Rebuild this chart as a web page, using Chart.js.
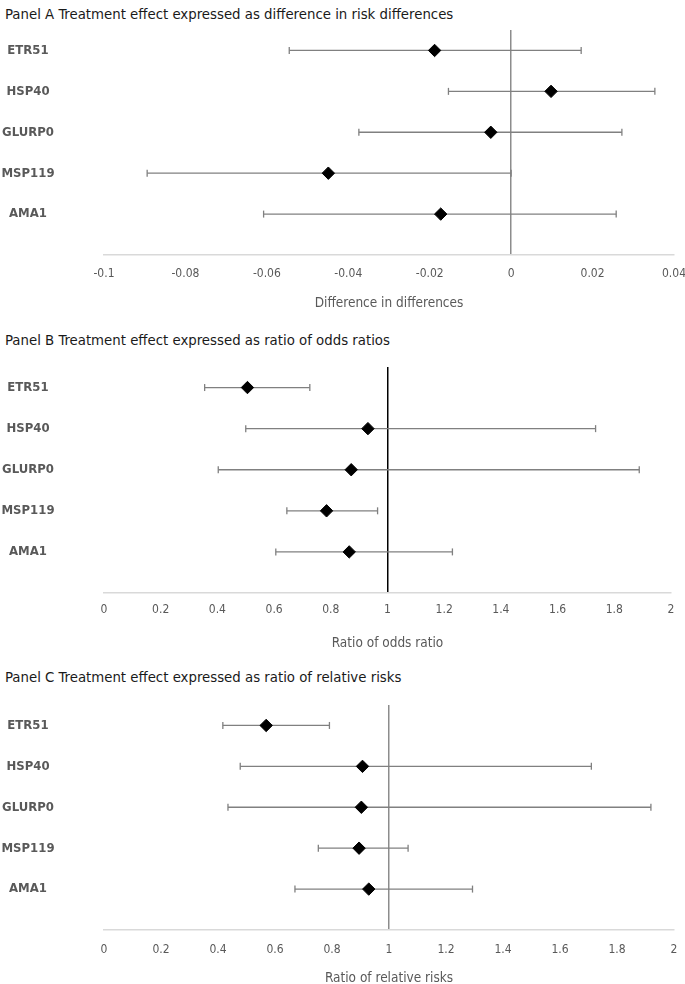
<!DOCTYPE html>
<html>
<head>
<meta charset="utf-8">
<script src="https://cdn.jsdelivr.net/npm/chart.js@4/dist/chart.umd.min.js"></script>
<style>
  html, body { margin: 0; padding: 0; background: #fff; }
  body { width: 685px; height: 984px; position: relative; overflow: hidden; }
  .panel { position: absolute; left: 0; width: 685px; }
  .ptitle { position: absolute; left: 5px; font-family: 'DejaVu Sans Condensed', 'Liberation Sans', sans-serif; font-size: 14.8px; color: #1a1a1a; white-space: nowrap; line-height: 16px; }
</style>
</head>
<body>
<div class="ptitle" style="top:6px">Panel A Treatment effect expressed as difference in risk differences</div>
<div class="ptitle" style="top:332px">Panel B Treatment effect expressed as ratio of odds ratios</div>
<div class="ptitle" style="top:669px">Panel C Treatment effect expressed as ratio of relative risks</div>
<div class="panel" id="pa" style="top:0px;height:320px"><canvas id="ca"></canvas></div>
<div class="panel" id="pb" style="top:322px;height:334px"><canvas id="cb"></canvas></div>
<div class="panel" id="pc" style="top:660px;height:334px"><canvas id="cc"></canvas></div>
<script>
// ---- data ----
const categories = ['ETR51', 'HSP40', 'GLURP0', 'MSP119', 'AMA1'];
const categoryPos = [5, 4, 3, 2, 1];

// Panel A: difference in risk differences
const estA = [-0.0188, 0.0098, -0.0050, -0.0449, -0.0173];
const lowA = [-0.0545, -0.0154, -0.0374, -0.0894, -0.0608];
const highA = [0.0172, 0.0353, 0.0272, 0.0000, 0.0258];
const ticksA = [-0.1, -0.08, -0.06, -0.04, -0.02, 0, 0.02, 0.04];
const tickLabelsA = ['-0.1', '-0.08', '-0.06', '-0.04', '-0.02', '0', '0.02', '0.04'];

// Panel B: ratio of odds ratios
const estB = [0.506, 0.931, 0.872, 0.785, 0.865];
const lowB = [0.355, 0.500, 0.403, 0.645, 0.606];
const highB = [0.726, 1.734, 1.888, 0.965, 1.229];

// Panel C: ratio of relative risks
const estC = [0.569, 0.907, 0.903, 0.895, 0.929];
const lowC = [0.417, 0.478, 0.435, 0.752, 0.670];
const highC = [0.791, 1.710, 1.919, 1.067, 1.293];

const ticksBC = [0, 0.2, 0.4, 0.6, 0.8, 1, 1.2, 1.4, 1.6, 1.8, 2];
const tickLabelsBC = ['0', '0.2', '0.4', '0.6', '0.8', '1', '1.2', '1.4', '1.6', '1.8', '2'];

const axisTitles = ['Difference in differences', 'Ratio of odds ratio', 'Ratio of relative risks'];

// ---- chart builder ----
const FONT = "'DejaVu Sans Condensed', 'Liberation Sans', sans-serif";
const GRAY = '#595959';
const LABEL_SIZE = 13;
const Y_AXIS_WIDTH = 104;
const LABEL_CENTER = 28;

// measure widest category label to center labels at LABEL_CENTER
const mctx = document.createElement('canvas').getContext('2d');
mctx.font = `bold ${LABEL_SIZE}px ${FONT}`;
const widestLabel = Math.max(...categories.map(c => mctx.measureText(c).width));
const yLabelPad = Y_AXIS_WIDTH - LABEL_CENTER - widestLabel / 2;

function makePanel(canvasId, est, low, high, tickVals, tickLabels, refValue, refColor, axisTitle, cfg) {
  const datasets = [];
  datasets.push({
    label: 'estimate',
    data: est.map((v, i) => ({ x: v, y: categoryPos[i] })),
    pointStyle: 'rectRot',
    pointRadius: 6.2,
    pointHoverRadius: 6.2,
    backgroundColor: '#000',
    borderColor: '#000',
    borderWidth: 1,
    showLine: false
  });
  est.forEach((v, i) => {
    datasets.push({
      label: 'ci' + i,
      data: [{ x: low[i], y: categoryPos[i] }, { x: high[i], y: categoryPos[i] }],
      showLine: true,
      borderColor: '#808080',
      borderWidth: 1.3,
      pointStyle: 'line',
      rotation: 90,
      pointRadius: 3.5,
      pointHoverRadius: 3.5,
      pointBorderColor: '#808080',
      pointBorderWidth: 1.3,
      fill: false
    });
  });

  return new Chart(document.getElementById(canvasId), {
    type: 'scatter',
    data: { datasets },
    options: {
      responsive: true,
      maintainAspectRatio: false,
      animation: false,
      clip: false,
      layout: { padding: { top: cfg.padTop, right: cfg.padRight, left: 0, bottom: 0 } },
      plugins: { legend: { display: false }, tooltip: { enabled: false }, title: { display: false } },
      scales: {
        x: {
          type: 'linear',
          min: tickVals[0],
          max: tickVals[tickVals.length - 1],
          afterBuildTicks: (s) => { s.ticks = tickVals.map(v => ({ value: v })); },
          afterFit: (s) => { s.height = cfg.xHeight; s.paddingLeft = 0; s.paddingRight = 0; },
          ticks: {
            padding: cfg.tickPad,
            autoSkip: false,
            maxRotation: 0,
            color: GRAY,
            font: { family: FONT, size: 12 },
            callback: (val, idx) => tickLabels[idx]
          },
          grid: {
            display: true,
            drawTicks: false,
            color: (ctx) => (ctx.tick && Math.abs(ctx.tick.value - refValue) < 1e-9) ? refColor : 'rgba(0,0,0,0)',
            lineWidth: 1.5
          },
          border: { display: true, color: '#d9d9d9', width: 1.5 },
          title: {
            display: true,
            text: axisTitle,
            color: GRAY,
            font: { family: FONT, size: 13.5 },
            padding: { top: 0, bottom: cfg.titlePad }
          }
        },
        y: {
          type: 'linear',
          min: 0,
          max: 5.5,
          afterBuildTicks: (s) => { s.ticks = categoryPos.map(v => ({ value: v })); },
          afterFit: (s) => { s.width = Y_AXIS_WIDTH; s.paddingTop = 0; s.paddingBottom = 0; },
          ticks: {
            crossAlign: 'center',
            padding: yLabelPad,
            color: GRAY,
            font: { family: FONT, size: LABEL_SIZE, weight: 'bold' },
            callback: (val) => {
              const i = categoryPos.indexOf(val);
              return i >= 0 ? categories[i] : '';
            }
          },
          grid: { display: false, drawTicks: false },
          border: { display: false }
        }
      }
    }
  });
}

makePanel('ca', estA, lowA, highA, ticksA, tickLabelsA, 0, '#8c8c8c', axisTitles[0],
  { padTop: 30, padRight: 11, xHeight: 65, tickPad: 12, titlePad: 8 });
makePanel('cb', estB, lowB, highB, ticksBC, tickLabelsBC, 1, '#000000', axisTitles[1],
  { padTop: 45, padRight: 14, xHeight: 63, tickPad: 10, titlePad: 4.5 });
makePanel('cc', estC, lowC, highC, ticksBC, tickLabelsBC, 1, '#8c8c8c', axisTitles[2],
  { padTop: 45, padRight: 11, xHeight: 64, tickPad: 13, titlePad: 7.5 });
</script>
</body>
</html>
